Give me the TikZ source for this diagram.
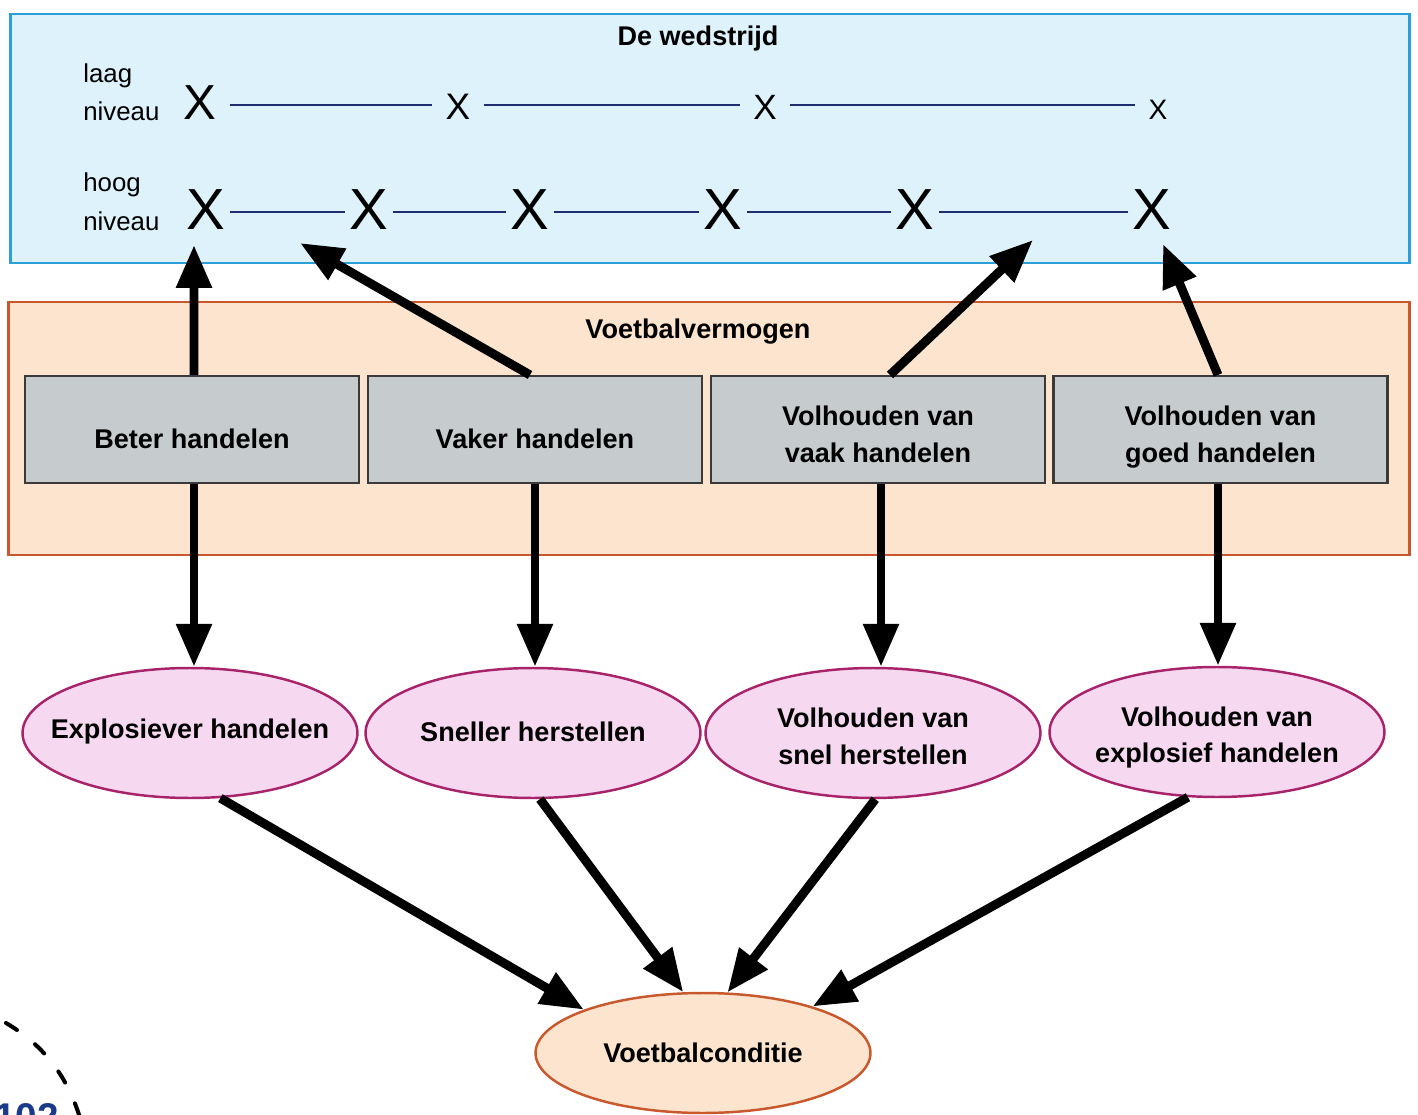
\documentclass[tikz,border=0pt]{standalone}
\usepackage{fontspec}
\setmainfont{Liberation Sans}
\usetikzlibrary{arrows.meta,shapes.geometric,calc}

\definecolor{skyfill}{HTML}{DDF2FB}
\definecolor{skyline}{HTML}{2A9FD8}
\definecolor{peachfill}{HTML}{FDE4CE}
\definecolor{peachline}{HTML}{C9582C}
\definecolor{greyfill}{HTML}{C6CBCD}
\definecolor{greyline}{HTML}{3A3A3A}
\definecolor{pinkfill}{HTML}{F6D8F1}
\definecolor{pinkline}{HTML}{A8236A}
\definecolor{navyrung}{HTML}{1E2C70}
\definecolor{pageblue}{HTML}{1A3A8A}

\newcommand{\labelfont}{\fontsize{15.4}{21}\selectfont\bfseries}
\newcommand{\sidefont}{\fontsize{14.7}{20}\selectfont}

\tikzset{
  band/.style={draw=#1, line width=1.6pt, rectangle, inner sep=0pt},
  bandtitle/.style={font=\labelfont, inner sep=0pt},
  sidelabel/.style={font=\sidefont, anchor=west, inner sep=0pt},
  markx/.style={font=\fontsize{#1}{#1}\selectfont, anchor=base, inner sep=0pt, inner xsep=0.26cm},
  bigx/.style={font=\fontsize{33}{33}\selectfont, anchor=base, inner sep=0pt, inner xsep=0.08cm},
  rung/.style={draw=navyrung, line width=1.5pt},
  abilitybox/.style={draw=greyline, fill=greyfill, line width=1.2pt, rectangle,
    minimum width=6.68cm, minimum height=2.14cm, inner sep=0pt},
  fitness/.style={draw=pinkline, fill=pinkfill, line width=1.4pt, ellipse,
    minimum width=6.7cm, minimum height=2.6cm, inner sep=0pt},
  caption/.style={align=center, font=\labelfont, inner sep=0pt},
  arr/.style={line width=5.1pt, -{Triangle[length=0.86cm, width=0.68cm]}},
}

\begin{document}
\begin{tikzpicture}[x=0.02cm, y=-0.02cm]
  \useasboundingbox (0,0) rectangle (1418,1115);

  % ---- upper band: the match ----
  \node[band=skyline, fill=skyfill, minimum width=28cm, minimum height=4.98cm]
    (match) at (710,138.5) {};
  \node[bandtitle] (matchtitle) at (698,39) {De wedstrijd};
  \node[sidelabel] (laag1) at (83,76) {laag};
  \node[sidelabel] (laag2) at (83,111) {niveau};
  \node[sidelabel] (hoog1) at (83,185) {hoog};
  \node[sidelabel] (hoog2) at (83,221) {niveau};

  % low level: few actions, far apart
  \node[markx=28] (lx1) at (200,120) {X};
  \node[markx=21] (lx2) at (458,120) {X};
  \node[markx=20] (lx3) at (765,120) {X};
  \node[markx=16] (lx4) at (1158,120) {X};
  \foreach \a/\b in {lx1/lx2, lx2/lx3, lx3/lx4}
    \draw[rung] (\a.east |- 0,105) -- (\b.west |- 0,105);

  % high level: many actions, close together
  \node[bigx] (hx1) at (206,230) {X};
  \node[bigx] (hx2) at (369,230) {X};
  \node[bigx] (hx3) at (530,230) {X};
  \node[bigx] (hx4) at (723,230) {X};
  \node[bigx] (hx5) at (915,230) {X};
  \node[bigx] (hx6) at (1152,230) {X};
  \foreach \a/\b in {hx1/hx2, hx2/hx3, hx3/hx4, hx4/hx5, hx5/hx6}
    \draw[rung] (\a.east |- 0,212) -- (\b.west |- 0,212);

  % ---- middle band: football ability ----
  \node[band=peachline, fill=peachfill, minimum width=28.04cm, minimum height=5.06cm]
    (ability) at (709,428.5) {};
  \node[bandtitle] (abilitytitle) at (698,332) {Voetbalvermogen};

  \node[abilitybox] (b1) at (192,429.5) {};
  \node[abilitybox] (b2) at (535,429.5) {};
  \node[abilitybox] (b3) at (878,429.5) {};
  \node[abilitybox] (b4) at (1220.5,429.5) {};
  \node[caption] (t1) at ([yshift=-0.18cm]b1.center) {Beter handelen};
  \node[caption] (t2) at ([yshift=-0.18cm]b2.center) {Vaker handelen};
  \node[caption] (t3) at ([yshift=-0.1cm]b3.center) {Volhouden van\\vaak handelen};
  \node[caption] (t4) at ([yshift=-0.16cm]b4.center) {Volhouden van\\goed handelen};

  % ---- lower row: football fitness components ----
  \node[fitness] (e1) at (190,733) {};
  \node[fitness] (e2) at (533,733) {};
  \node[fitness] (e3) at (873,733) {};
  \node[fitness] (e4) at (1217,732) {};
  \node[caption] (s1) at ([yshift=0.02cm]e1.center) {Explosiever handelen};
  \node[caption] (s2) at ([yshift=0.02cm]e2.center) {Sneller herstellen};
  \node[caption] (s3) at ([yshift=-0.06cm]e3.center) {Volhouden van\\snel herstellen};
  \node[caption] (s4) at ([yshift=-0.11cm]e4.center) {Volhouden van\\explosief handelen};

  \node[draw=peachline, fill=peachfill, line width=1.4pt, ellipse,
        minimum width=6.7cm, minimum height=2.4cm, inner sep=0pt]
    (cond) at (703,1053) {};
  \node[caption] (condtext) at (cond.center) {Voetbalconditie};

  % ---- arrows up into the match ----
  \coordinate (u1) at (194,245);
  \coordinate (u2) at (300,243);
  \coordinate (u3) at (1033,240);
  \coordinate (u4) at (1163,244);
  \draw[arr] ([xshift=0.04cm]b1.north) -- (u1);
  \draw[arr] ([xshift=-0.1cm]b2.north) -- (u2);
  \draw[arr] ([xshift=0.24cm]b3.north) -- (u3);
  \draw[arr] ([xshift=-0.05cm]b4.north) -- (u4);

  % ---- arrows down to the fitness components ----
  \draw[arr] ([xshift=0.04cm]b1.south) -- ([xshift=0.04cm]b1.south |- e1.north);
  \draw[arr] (b2.south) -- (b2.south |- e2.north);
  \draw[arr] ([xshift=0.06cm]b3.south) -- ([xshift=0.06cm]b3.south |- e3.north);
  \draw[arr] ([xshift=-0.05cm]b4.south) -- ([xshift=-0.05cm]b4.south |- e4.north);

  % ---- arrows into football fitness ----
  \draw[arr] (e1.-65) -- (cond.160);
  \draw[arr] (e2.-84) -- (cond.108);
  \draw[arr] (e3.-88) -- (cond.68);
  \draw[arr] (e4.-114) -- (cond.23);

  % ---- page corner ----
  \draw[line width=2.3pt, line cap=round, dash pattern=on 0.26cm off 0.46cm]
    (6,1023) .. controls (40,1043) and (66,1072) .. (80,1118);
  \node[font=\fontsize{22}{22}\selectfont\bfseries, text=pageblue, anchor=north west,
        inner sep=0pt] (pagenr) at (-6,1103) {102};
\end{tikzpicture}
\end{document}
